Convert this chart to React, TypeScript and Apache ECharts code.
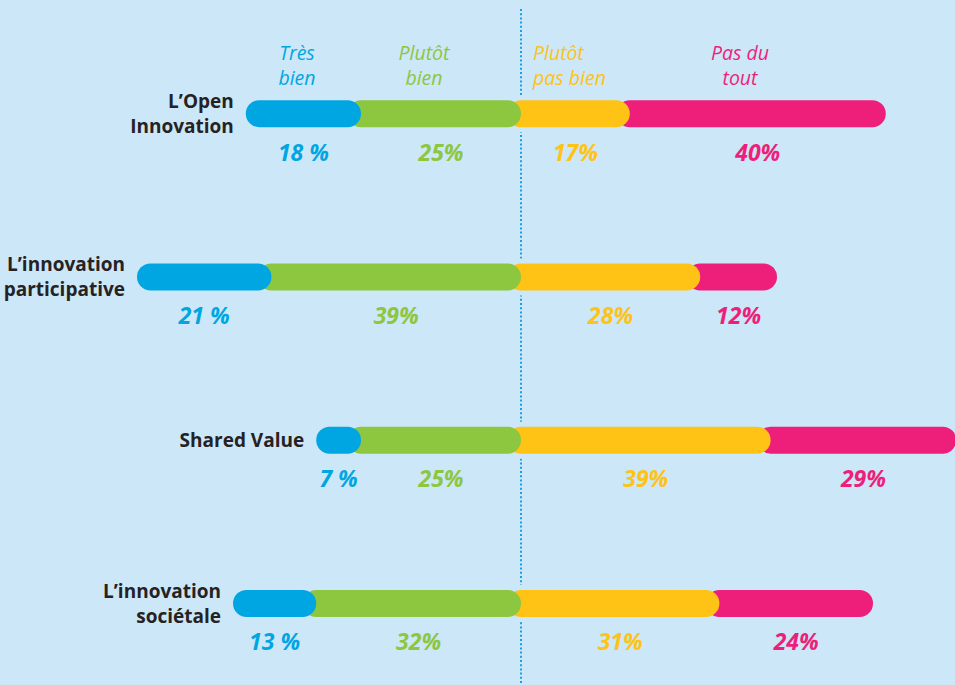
import React, { useEffect, useRef } from "react";
import * as echarts from "echarts";

// ---- data ----
const categories = [
  "L\u2019Open\nInnovation",
  "L\u2019innovation\nparticipative",
  "Shared Value",
  "L\u2019innovation\nsociétale",
];
const segmentNames = ["Très\nbien", "Plutôt\nbien", "Plutôt\npas bien", "Pas du\ntout"];
const tresBien = [18, 21, 7, 13];
const plutotBien = [25, 39, 25, 32];
const plutotPasBien = [17, 28, 39, 31];
const pasDuTout = [40, 12, 29, 24];

// ---- style ----
const BG = "#cce7f7";
const COLORS = ["#00a6e2", "#8dc63f", "#fec315", "#ee1f7a"];
const LINE_COLOR = "#1aa1dd";
const FONT = '"Open Sans", "Noto Sans", sans-serif';
const BAR_H = 27;
const LABEL_DY = 38;
const PX_PER_UNIT = 6.4;
const CENTER_X = 521;
const W = 955;
const H = 685;

function segmentRanges(k: number, i: number): [number, number, number] {
  const b = tresBien[i], g = plutotBien[i], y = plutotPasBien[i], p = pasDuTout[i];
  if (k === 0) return [-(b + g), -g, b];
  if (k === 1) return [-g, 0, g];
  if (k === 2) return [0, y, y];
  return [y, y + p, p];
}

function fmt(k: number, v: number) {
  return k === 0 ? `${v} %` : `${v}%`;
}

export default function App() {
  const ref = useRef<HTMLDivElement>(null);
  useEffect(() => {
    if (!ref.current) return;
    const chart = echarts.init(ref.current, undefined, { renderer: "svg" });

    const segmentSeries = [3, 2, 1, 0].map((k) => ({
      type: "custom",
      name: segmentNames[k],
      coordinateSystem: "cartesian2d",
      encode: { x: [1, 2], y: 0 },
      data: categories.map((_, i) => {
        const [s, e, v] = segmentRanges(k, i);
        return [i, s, e, v];
      }),
      renderItem: (params: any, api: any) => {
        const cat = api.value(0);
        const s = api.value(1);
        const e = api.value(2);
        const v = api.value(3);
        const p0 = api.coord([s, cat]);
        const p1 = api.coord([e, cat]);
        const r = BAR_H / 2;
        const ext = k === 0 ? 0 : r;
        const x = p0[0] - ext;
        return {
          type: "group",
          children: [
            {
              type: "rect",
              shape: { x, y: p0[1] - r, width: p1[0] - x, height: BAR_H, r },
              style: { fill: COLORS[k] },
            },
            {
              type: "text",
              x: (p0[0] + p1[0]) / 2,
              y: p0[1] + LABEL_DY,
              style: {
                text: fmt(k, v),
                fill: COLORS[k],
                font: `italic bold 23px ${FONT}`,
                align: "center",
                verticalAlign: "middle",
                textAlign: "center",
                textVerticalAlign: "middle",
              },
            },
          ],
        };
      },
      z: 3,
    }));

    const headers = [
      { x: 297, align: "center", k: 0 },
      { x: 424, align: "center", k: 1 },
      { x: 533, align: "left", k: 2 },
      { x: 740, align: "center", k: 3 },
    ];
    const graphic: any[] = [];
    headers.forEach((h) => {
      segmentNames[h.k].split("\n").forEach((line, li) => {
        graphic.push({
          type: "text",
          x: h.x,
          y: 52.75 + li * 24.5,
          style: {
            text: line,
            fill: COLORS[h.k],
            font: `italic 19.5px ${FONT}`,
            align: h.align,
            verticalAlign: "middle",
            textAlign: h.align,
            textVerticalAlign: "middle",
          },
        });
      });
    });

    const option: any = {
      animation: false,
      backgroundColor: BG,
      grid: { left: 0, right: 0, top: 32, height: 659 },
      xAxis: {
        type: "value",
        min: -CENTER_X / PX_PER_UNIT,
        max: (W - CENTER_X) / PX_PER_UNIT,
        show: false,
      },
      yAxis: {
        type: "category",
        data: categories,
        inverse: true,
        show: false,
      },
      series: [
        {
          type: "custom",
          name: "centre",
          coordinateSystem: "cartesian2d",
          encode: { x: 0, y: 1 },
          data: [[0, 0]],
          renderItem: (params: any, api: any) => {
            const x = Math.round(api.coord([0, 0])[0]);
            return {
              type: "line",
              shape: { x1: x, y1: 9, x2: x, y2: api.getHeight() },
              style: { stroke: LINE_COLOR, lineWidth: 2, lineDash: [2, 2.2] },
            };
          },
          z: 1,
        },
        {
          type: "custom",
          name: "rows",
          coordinateSystem: "cartesian2d",
          encode: { x: [1, 2], y: 0 },
          data: categories.map((_, i) => [
            i,
            -(tresBien[i] + plutotBien[i]),
            plutotPasBien[i] + pasDuTout[i],
          ]),
          renderItem: (params: any, api: any) => {
            const cat = api.value(0);
            const p0 = api.coord([api.value(1), cat]);
            const p1 = api.coord([api.value(2), cat]);
            const mh = BAR_H + 10;
            return {
              type: "group",
              children: [
                {
                  type: "rect",
                  shape: { x: p0[0] - 5, y: p0[1] - mh / 2, width: p1[0] - p0[0] + 10, height: mh, r: mh / 2 },
                  style: { fill: BG },
                },
                {
                  type: "text",
                  x: p0[0] - 12,
                  y: p0[1],
                  style: {
                    text: categories[cat],
                    fill: "#262223",
                    font: `bold 19px ${FONT}`,
                    lineHeight: 25,
                    align: "right",
                    verticalAlign: "middle",
                    textAlign: "right",
                    textVerticalAlign: "middle",
                  },
                },
              ],
            };
          },
          z: 2,
        },
        ...segmentSeries,
      ],
      graphic,
    };
    chart.setOption(option);
    return () => chart.dispose();
  }, []);
  return (
    <div
      ref={ref}
      style={{ position: "absolute", left: 0, top: 0, width: W, height: H }}
    />
  );
}
